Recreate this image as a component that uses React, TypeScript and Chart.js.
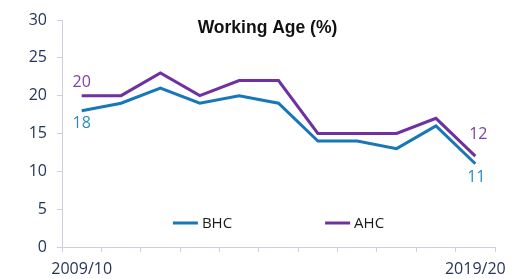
import React, { useEffect, useRef } from "react";
import { Chart, registerables } from "chart.js";

Chart.register(...registerables);

const categories = ["2009/10", "2010/11", "2011/12", "2012/13", "2013/14", "2014/15", "2015/16", "2016/17", "2017/18", "2018/19", "2019/20"];
const bhc = [18, 19, 21, 19, 20, 19, 14, 14, 13, 16, 11];
const ahc = [20, 20, 23, 20, 22, 22, 15, 15, 15, 17, 12];
const titleText = "Working Age (%)";

const BLUE = "#1777b8";
const PURPLE = "#7030a0";
const BLUE_LABEL = "#2e8bc4";
const PURPLE_LABEL = "#8040a8";
const TICK_COLOR = "#26355a";
const AXIS_COLOR = "#c9d1dd";
const FONT = "'Open Sans', sans-serif";

const titlePlugin = {
  id: "insideTitle",
  afterDraw(chart: any) {
    const { ctx, width } = chart;
    ctx.save();
    ctx.font = "bold 17.5px 'Liberation Sans', Arial, sans-serif";
    ctx.fillStyle = "#111";
    ctx.textAlign = "center";
    ctx.textBaseline = "middle";
    ctx.fillText(titleText, width / 2 + 4, 28);
    ctx.restore();
  },
};

const legendPlugin = {
  id: "insideLegend",
  afterDraw(chart: any) {
    const { ctx, chartArea } = chart;
    ctx.save();
    ctx.font = `15px ${FONT}`;
    ctx.textBaseline = "middle";
    ctx.textAlign = "left";
    const lineLen = 25;
    const lineGap = 4;
    const itemGap = 93;
    const items = chart.data.datasets.map((d: any) => ({
      label: d.label,
      color: d.borderColor,
      w: lineLen + lineGap + ctx.measureText(d.label).width,
    }));
    const total = items.reduce((s: number, it: any) => s + it.w, 0) + itemGap * (items.length - 1);
    let x = (chartArea.left + chartArea.right) / 2 - total / 2;
    const y = chartArea.bottom - 24;
    for (const it of items) {
      ctx.strokeStyle = it.color;
      ctx.lineWidth = 3;
      ctx.beginPath();
      ctx.moveTo(x, y);
      ctx.lineTo(x + lineLen, y);
      ctx.stroke();
      ctx.fillStyle = "#1a1a1a";
      ctx.fillText(it.label, x + lineLen + lineGap, y + 1);
      x += it.w + itemGap;
    }
    ctx.restore();
  },
};

const labelPlugin = {
  id: "endLabels",
  afterDatasetsDraw(chart: any) {
    const { ctx } = chart;
    ctx.save();
    ctx.font = `16px ${FONT}`;
    ctx.textAlign = "center";
    ctx.textBaseline = "middle";
    chart.data.datasets.forEach((ds: any, di: number) => {
      const meta = chart.getDatasetMeta(di);
      const n = ds.data.length;
      const above = di === 1;
      [0, n - 1].forEach((i) => {
        const pt = meta.data[i];
        ctx.fillStyle = above ? PURPLE_LABEL : BLUE_LABEL;
        let dy = above ? -13 : 13;
        let dx = 0;
        if (i === n - 1) {
          dy = above ? -22 : 14;
          dx = above ? 3 : 1;
        }
        ctx.fillText(String(ds.data[i]), pt.x + dx, pt.y + dy);
      });
    });
    ctx.restore();
  },
};

export default function App() {
  const ref = useRef<HTMLCanvasElement | null>(null);

  useEffect(() => {
    document.body.style.margin = "0";
    if (!ref.current) return;
    const chart = new Chart(ref.current, {
      type: "line",
      data: {
        labels: categories,
        datasets: [
          {
            label: "BHC",
            data: bhc,
            borderColor: BLUE,
            backgroundColor: BLUE,
            borderWidth: 3,
            pointRadius: 0,
            tension: 0,
          },
          {
            label: "AHC",
            data: ahc,
            borderColor: PURPLE,
            backgroundColor: PURPLE,
            borderWidth: 3,
            pointRadius: 0,
            tension: 0,
          },
        ],
      },
      options: {
        responsive: false,
        animation: false,
        layout: { padding: { top: 20, right: 32, left: 0, bottom: 0 } },
        plugins: {
          legend: { display: false },
          title: { display: false },
          tooltip: { enabled: false },
        },
        scales: {
          x: {
            offset: true,
            grid: {
              offset: true,
              drawOnChartArea: false,
              drawTicks: true,
              tickLength: 5,
              tickColor: AXIS_COLOR,
              lineWidth: 1,
            },
            border: { color: AXIS_COLOR, width: 1 },
            ticks: {
              autoSkip: false,
              maxRotation: 0,
              padding: 8,
              color: TICK_COLOR,
              font: { family: "'Open Sans', sans-serif", size: 16 },
              callback: (_v: any, i: number) => (i === 0 || i === categories.length - 1 ? categories[i] : ""),
            },
            afterFit: (scale: any) => {
              scale.height = 32;
            },
          },
          y: {
            min: 0,
            max: 30,
            grid: {
              drawOnChartArea: false,
              drawTicks: true,
              tickLength: 5,
              tickColor: AXIS_COLOR,
            },
            border: { color: AXIS_COLOR, width: 1 },
            ticks: {
              stepSize: 5,
              padding: 10,
              color: TICK_COLOR,
              font: { family: "'Open Sans', sans-serif", size: 16 },
            },
            afterFit: (scale: any) => {
              scale.width = 62;
            },
          },
        },
      },
      plugins: [titlePlugin, legendPlugin, labelPlugin],
    });
    return () => chart.destroy();
  }, []);

  return (
    <div style={{ width: 527, height: 279, position: "relative" }}>
      <canvas ref={ref} width={527} height={279} style={{ display: "block" }} />
    </div>
  );
}
